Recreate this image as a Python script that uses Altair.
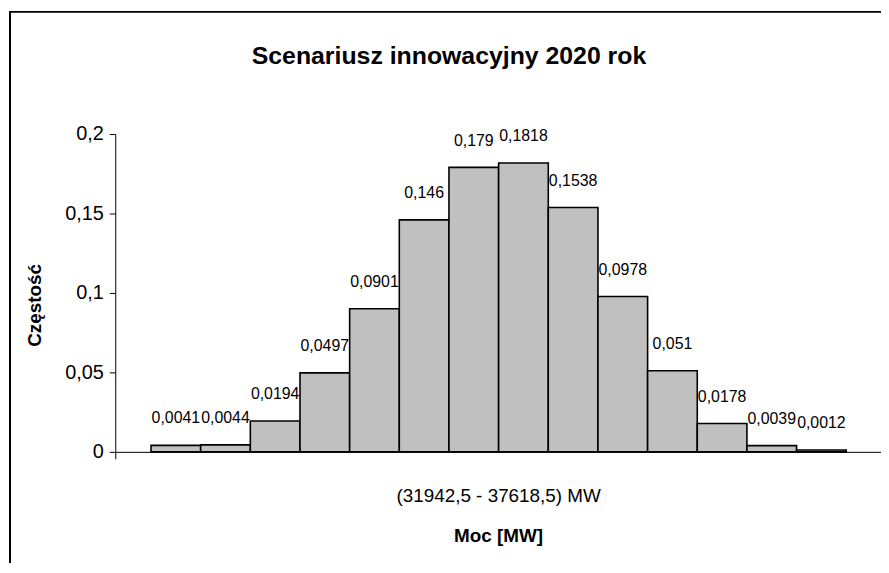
import altair as alt
import pandas as pd

# ---- data ----
values = [0.0041, 0.0044, 0.0194, 0.0497, 0.0901, 0.146, 0.179, 0.1818,
          0.1538, 0.0978, 0.051, 0.0178, 0.0039, 0.0012]
category = "(31942,5 - 37618,5) MW"
y_ticks = [0, 0.05, 0.1, 0.15, 0.2]
title_text = "Scenariusz innowacyjny 2020 rok"
x_title = "Moc [MW]"
y_title = "Częstość"

XMIN, XMAX = -0.72, 14.7
XMID = round((XMIN + XMAX) / 2, 3)
FONT = "Liberation Sans Narrow, Arial Narrow, Liberation Sans, Arial, sans-serif"

df = pd.DataFrame({
    "start": list(range(len(values))),
    "end": [i + 1 for i in range(len(values))],
    "mid": [i + 0.5 for i in range(len(values))],
    "zero": [0.0] * len(values),
    "value": values,
    "label": [str(v).replace(".", ",") for v in values],
})

xscale = alt.Scale(domain=[XMIN, XMAX], nice=False, zero=False)
yscale = alt.Scale(domain=[0, 0.2], nice=False)

base = alt.Chart(df)

bars = base.mark_rect(fill="#c0c0c0", stroke="black", strokeWidth=1.6).encode(
    x=alt.X("start:Q", scale=xscale,
            axis=alt.Axis(values=[XMIN, XMID, XMAX], title=x_title,
                          labelExpr=f"abs(datum.value - {XMID}) < 0.01 ? '{category}' : ''",
                          tickOpacity={"condition": {"test": f"abs(datum.value - {XMID}) < 0.01", "value": 0}, "value": 1},
                          tickSize=7, labelPadding=28, labelFontSize=19, labelFont=FONT,
                          labelLimit=600,
                          labelFlush=False, labelOverlap=False, grid=False,
                          titleFont=FONT, titleFontSize=19, titleFontWeight="bold",
                          titleY=84, titleBaseline="middle",
                          domainColor="black", tickColor="black", labelColor="black",
                          titleColor="black")),
    x2="end:Q",
    y=alt.Y("value:Q", scale=yscale,
            axis=alt.Axis(values=y_ticks, title=y_title,
                          labelExpr="replace(toString(datum.value), '.', ',')",
                          tickSize=6, labelPadding=6, labelFontSize=20, labelFont=FONT,
                          grid=False, titleFont=FONT, titleFontSize=19,
                          titleFontWeight="bold", titleX=-81, titleY=172,
                          titleAngle=-90, titleAlign="center", titleBaseline="middle",
                          domainColor="black", tickColor="black", labelColor="black",
                          titleColor="black")),
    y2="zero:Q",
)

labels = base.mark_text(font=FONT, fontSize=16, baseline="middle", dy=-27,
                        color="black").encode(
    x=alt.X("mid:Q", scale=xscale),
    y=alt.Y("value:Q", scale=yscale),
    text="label:N",
)

frame = alt.Chart(pd.DataFrame({"a": [0]})).mark_rect(
    fill="transparent", stroke="black", strokeWidth=2
).encode(x=alt.value(-106), x2=alt.value(900), y=alt.value(-123), y2=alt.value(500))

title = alt.Chart(pd.DataFrame({"t": [title_text]})).mark_text(
    font=FONT, fontSize=25, fontWeight="bold", color="black", baseline="middle", align="center"
).encode(text="t:N", x=alt.value(336), y=alt.value(-79))

chart = alt.layer(frame, bars, labels, title).properties(
    width=771, height=320,
    padding={"left": 108, "top": 125, "right": 0, "bottom": 110},
    autosize=alt.AutoSizeParams(type="none"),
).configure_view(strokeWidth=0)

chart.save("out.html", embed_options={"renderer": "svg", "actions": False})
